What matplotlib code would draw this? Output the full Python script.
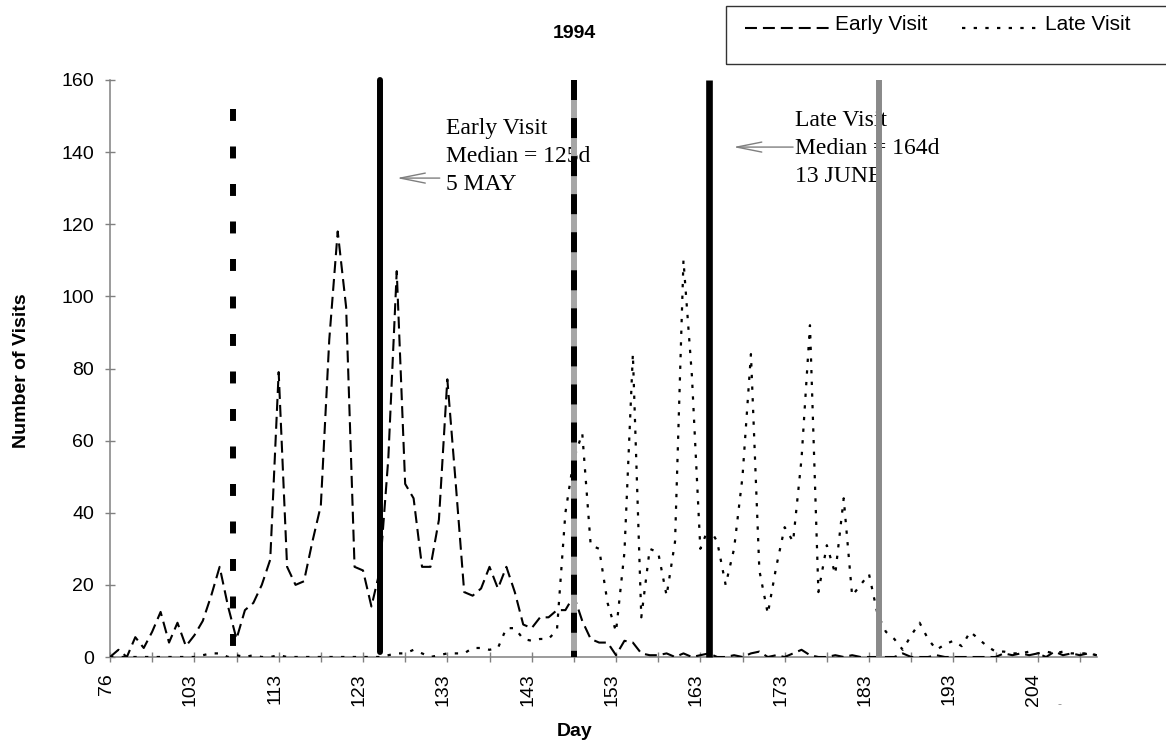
import numpy as np
import matplotlib
matplotlib.use("Agg")
import matplotlib.pyplot as plt
import matplotlib.transforms as mtransforms
from matplotlib.lines import Line2D
from matplotlib.patches import Rectangle

plt.rcParams["lines.scale_dashes"] = False
plt.rcParams["font.family"] = ["Liberation Sans", "DejaVu Sans"]

# Observation days (category axis)
days = [76, 78, 80, 82, 85, 88, 91, 94, 97, 100] + list(range(103, 200)) + list(range(201, 212))

early_visits = [
    0, 2, 0, 5.5, 2.5, 7, 12.5, 4, 9.5, 3,
    6, 10, 17, 25, 14, 5, 13, 15, 20, 27,
    79, 25, 20, 21, 32, 42, 88, 118, 97, 25,
    24, 14, 24, 55, 107, 48, 44, 25, 25, 38,
    77, 48, 18, 17, 19, 25, 19, 25, 18, 9,
    8, 11, 11, 13, 13, 17, 10, 5, 4, 4,
    0.5, 4.5, 4, 1, 0.5, 0.5, 1, 0, 1, 0,
    0.5, 1, 0, 0, 0.5, 0, 1, 1.5, 0, 0.5,
    0, 1, 2, 0.5, 0, 0, 0.5, 0, 0.5, 0,
    0, 0, 0, 0, 1, 0, 0, 0, 0.5, 0,
    0, 0, 0, 0, 0, 0, 1, 0.5, 1, 0.5,
    1, 0, 1.5, 0.5, 1, 0.5, 1, 0.5,
]

late_visits = [
    0, 0, 0, 0, 0, 0, 0, 0, 0, 0,
    0, 0.5, 1, 1, 0, 0.5, 0, 0.5, 0, 0,
    0.5, 0, 0, 0, 0, 0, 0, 0, 0, 0,
    0, 0, 0, 0.5, 1, 1, 2, 1, 0, 0.5,
    1, 1, 1, 2.5, 2.5, 2, 2.5, 8, 8, 5,
    4.5, 5, 5, 7.5, 40, 55, 62, 31, 30, 15,
    7, 29, 84, 11, 30, 29, 17, 32, 110, 78,
    30, 36, 32, 20, 30, 50, 84, 24, 12, 25,
    36, 32, 55, 92, 18, 31, 23, 44, 17, 20,
    23, 12, 7, 5, 2, 6, 9.5, 5, 2, 3.5,
    4.5, 3, 7, 5, 3, 1.5, 1.5, 1, 1, 1.5,
    1, 1.5, 1, 1.5, 1, 1, 1, 0.5,
]

# Visit period boundaries and medians (day of year)
period_bounds = [107.6, 148, 184.2]
early_median = 125
late_median = 164

W, H = 1166, 748
fig = plt.figure(figsize=(W / 100, H / 100), dpi=100)
ax = fig.add_axes([110 / W, 1 - 657 / H, (1096.7 - 110) / W, (657 - 80) / H])

x = np.arange(len(days))


def day_pos(d):
    return float(np.interp(d, days, x))


early_style = dict(color="black", lw=1.5, dashes=(8.6, 4.3), dash_capstyle="butt")
late_style = dict(color="black", lw=1.6, dashes=(2.4, 6.0), dash_capstyle="butt")

ax.plot(x, early_visits, zorder=3, **early_style)
ax.plot(x, late_visits, zorder=3, **late_style)

# Period boundary and median markers
p0 = day_pos(period_bounds[0])
ax.plot([p0, p0], [152, 0], color="black", lw=4.3, dashes=(8.6, 18.4),
        dash_capstyle="butt", zorder=5, clip_on=False)

pm1 = day_pos(early_median)
ax.plot([pm1, pm1], [1.5, 160], color="black", lw=4.3,
        solid_capstyle="round", zorder=5, clip_on=False)

p1 = day_pos(period_bounds[1])
ax.plot([p1, p1], [0, 160], color="#a6a6a6", lw=4.3, solid_capstyle="butt",
        zorder=5, clip_on=False)
ax.plot([p1, p1], [160, 0], color="black", lw=4.3, dashes=(14.4, 13.0),
        dash_capstyle="butt", zorder=6, clip_on=False)

pm2 = day_pos(late_median)
ax.plot([pm2, pm2], [0, 160], color="black", lw=4.8,
        solid_capstyle="butt", zorder=5, clip_on=False)

p2 = day_pos(period_bounds[2])
ax.plot([p2, p2], [0, 160], color="#8a8a8a", lw=4.3,
        solid_capstyle="butt", zorder=5, clip_on=False)

# Median annotations
serif = ["Liberation Serif", "DejaVu Serif"]
ax.text(39.9, 149.5, "Early Visit\nMedian = %dd\n5 MAY" % early_median,
        family=serif, fontsize=17, va="top", ha="left", linespacing=1.45, zorder=2)
ax.text(81.2, 151.7, "Late Visit\nMedian = %dd\n13 JUNE" % late_median,
        family=serif, fontsize=17, va="top", ha="left", linespacing=1.45, zorder=2)

arrow = dict(arrowstyle="->,head_length=1.8,head_width=0.36", color="#7f7f7f",
             lw=1.0, shrinkA=0, shrinkB=0)
ax.annotate("", xy=(34.0, 132.8), xytext=(39.1, 132.8), arrowprops=arrow, zorder=2)
ax.annotate("", xy=(73.9, 141.4), xytext=(81.0, 141.4), arrowprops=arrow, zorder=2)

# Axes styling
ax.set_xlim(0, len(days) - 1)
ax.set_ylim(0, 160)
ax.set_yticks(np.arange(0, 161, 20))
ticks = np.arange(0, len(days), 5)
ax.set_xticks(ticks)
ax.set_xticklabels([str(days[i]) if i % 10 == 0 else "" for i in ticks], rotation=90)
for s in ("top", "right"):
    ax.spines[s].set_visible(False)
for s in ("left", "bottom"):
    ax.spines[s].set_color("#808080")
    ax.spines[s].set_linewidth(1.1)
ax.tick_params(axis="both", direction="inout", length=7, width=1,
               color="#808080", labelsize=14, labelcolor="black")
ax.tick_params(axis="y", pad=8)
ax.tick_params(axis="x", pad=8)
shift = mtransforms.ScaledTranslation(-0.04, 0, fig.dpi_scale_trans)
for lab in ax.get_xticklabels():
    lab.set_transform(lab.get_transform() + shift)

fig.text(574 / W, 1 - 33 / H, "1994", fontsize=14, weight="bold", ha="center", va="center")
fig.text(22 / W, 1 - 371 / H, "Number of Visits", fontsize=14, weight="bold",
         rotation=90, ha="center", va="center")
fig.text(575 / W, 1 - 732 / H, "Day", fontsize=14, weight="bold", ha="center", va="center")
fig.text(1059 / W, 1 - 705 / H, "-", fontsize=9, color="#909090", ha="center", va="center")

# Legend box
fig.patches.append(Rectangle((726 / W, 1 - 64 / H), (1180 - 726) / W, 58 / H,
                             transform=fig.transFigure, fill=False,
                             edgecolor="#333333", lw=1.0))
fig.lines.append(Line2D([745 / W, 832 / W], [1 - 28 / H] * 2,
                        transform=fig.transFigure, **early_style))
fig.text(835 / W, 1 - 30 / H, "Early Visit", fontsize=15, ha="left", va="baseline")
fig.lines.append(Line2D([962 / W, 1040 / W], [1 - 28 / H] * 2,
                        transform=fig.transFigure, **late_style))
fig.text(1045 / W, 1 - 30 / H, "Late Visit", fontsize=15, ha="left", va="baseline")

fig.savefig("out.png", dpi=100)
